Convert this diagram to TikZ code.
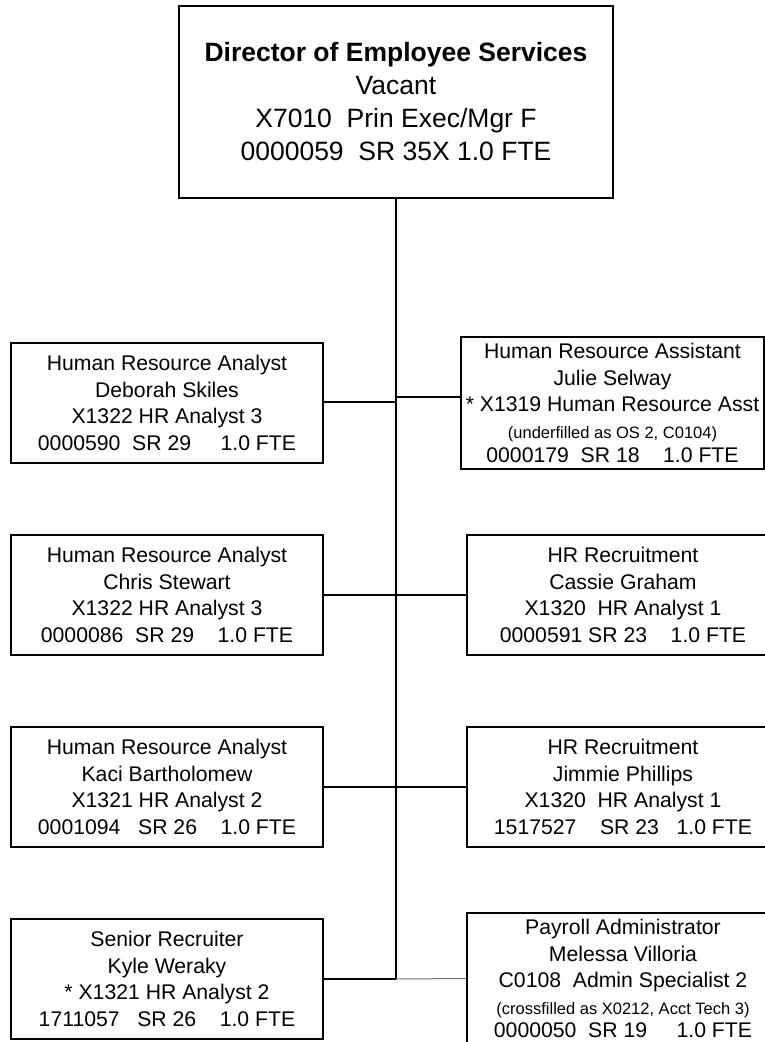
\documentclass[tikz,border=0pt]{standalone}
\usepackage{fontspec}
\setmainfont{Liberation Sans}
\newcommand\smallline[1]{{\fontsize{16.5}{20}\selectfont #1}}
\begin{document}
\begin{tikzpicture}[x=1pt,y=-1pt,
  box/.style={draw,line width=1.3pt,inner sep=0pt,align=center,
              font=\fontsize{21.2}{26.5}\selectfont},
  stdbox/.style={box,minimum width=312pt,minimum height=120pt},
  link/.style={line width=1.3pt},
  lightlink/.style={line width=1pt,draw=black!55}]
\useasboundingbox (0,0) rectangle (765,1042);
\clip (0,0) rectangle (765,1042);

\node[box,minimum width=434pt,minimum height=192pt,
      font=\fontsize{26.5}{33}\selectfont] (dir) at (396,102)
  {\textbf{Director of Employee Services}\\Vacant\\X7010~~Prin Exec/Mgr F\\0000059~~SR 35X 1.0 FTE};

% left column
\node[stdbox] (l1) at (167,403)
  {Human Resource Analyst\\Deborah Skiles\\X1322 HR Analyst 3\\0000590~~SR 29~~~~~1.0 FTE};
\node[stdbox] (l2) at (167,595)
  {Human Resource Analyst\\Chris Stewart\\X1322 HR Analyst 3\\0000086~~SR 29~~~~1.0 FTE};
\node[stdbox] (l3) at (167,787)
  {Human Resource Analyst\\Kaci Bartholomew\\X1321 HR Analyst 2\\0001094~~~SR 26~~~~1.0 FTE};
\node[stdbox] (l4) at (167,979)
  {Senior Recruiter\\Kyle Weraky\\* X1321 HR Analyst 2\\1711057~~~SR 26~~~~1.0 FTE};

% right column
\node[box,minimum width=303pt,minimum height=132pt] (r1) at (612.5,403)
  {Human Resource Assistant\\Julie Selway\\* X1319 Human Resource Asst\\\smallline{(underfilled as OS 2, C0104)}\\[-2pt]0000179~~SR 18~~~~1.0 FTE};
\node[stdbox] (r2) at (623,595)
  {HR Recruitment\\Cassie Graham\\X1320~~HR Analyst 1\\0000591 SR 23~~~~1.0 FTE};
\node[stdbox] (r3) at (623,787)
  {HR Recruitment\\Jimmie Phillips\\X1320~~HR Analyst 1\\1517527~~~~SR 23~~~1.0 FTE};
\node[box,minimum width=312pt,minimum height=131pt] (r4) at (623,978.5)
  {Payroll Administrator\\Melessa Villoria\\C0108~~Admin Specialist 2\\\smallline{(crossfilled as X0212, Acct Tech 3)}\\[-3pt]0000050~~SR 19~~~~~1.0 FTE};

% trunk points
\coordinate (tend) at (396,979);
\coordinate (j1) at (396,402);
\coordinate (j1r) at (396,397);
\coordinate (j2) at (396,595);
\coordinate (j3) at (396,787);

\draw[link] (dir.south -| tend) -- (tend);
\draw[link] (l1.east |- j1) -- (j1);
\draw[link] (j1r) -- (r1.west |- j1r);
\draw[link] (l2.east) -- (j2) -- (r2.west);
\draw[link] (l3.east) -- (j3) -- (r3.west);
\draw[link] (l4.east) -- (tend);
\draw[lightlink] (tend) -- (r4.west);
\end{tikzpicture}
\end{document}
